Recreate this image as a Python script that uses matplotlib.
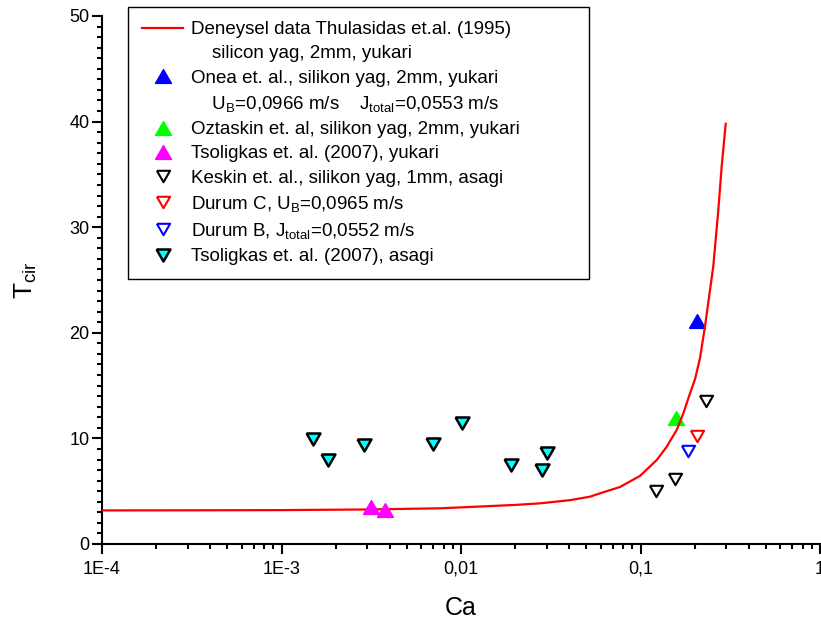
import matplotlib
matplotlib.use("Agg")
import matplotlib.pyplot as plt
from matplotlib.lines import Line2D
from matplotlib.ticker import FixedLocator, FixedFormatter, MultipleLocator, LogLocator, NullFormatter

plt.rcParams['font.family'] = ['Liberation Sans', 'DejaVu Sans']
plt.rcParams['mathtext.fontset'] = 'custom'
plt.rcParams['mathtext.rm'] = 'Liberation Sans'
plt.rcParams['mathtext.it'] = 'Liberation Sans:italic'

# ---- data ----
curve_ca = [1e-4, 3e-4, 1e-3, 3e-3, 0.00764, 0.0128, 0.0200, 0.0275, 0.0405, 0.0523,
            0.0595, 0.0769, 0.0994, 0.1231, 0.1399, 0.1591, 0.1733, 0.1888, 0.2012,
            0.2145, 0.2287, 0.2544, 0.2713, 0.2831, 0.2983]
curve_t = [3.18, 3.19, 3.21, 3.27, 3.38, 3.55, 3.7, 3.85, 4.15, 4.48,
           4.80, 5.4, 6.45, 7.95, 9.21, 10.8, 12.38, 14.27, 15.6,
           17.6, 20.6, 26.3, 31.6, 35.7, 39.8]

onea_ca = [0.2055]
onea_t = [21.1]

oztaskin_ca = [0.1578]
oztaskin_t = [11.9]

tsol_up_ca = [0.00314, 0.00376]
tsol_up_t = [3.5, 3.2]

keskin_ca = [0.2306, 0.155, 0.1215]
keskin_t = [13.57, 6.12, 5.05]

durumC_ca = [0.2072]
durumC_t = [10.26]

durumB_ca = [0.1839]
durumB_t = [8.81]

tsol_down_ca = [0.001503, 0.001824, 0.002882, 0.00695, 0.01009, 0.01901, 0.02998, 0.02817]
tsol_down_t = [9.94, 7.95, 9.38, 9.47, 11.49, 7.48, 8.59, 7.0]

xtick_vals = [1e-4, 1e-3, 1e-2, 1e-1, 1]
xtick_labels = ["1E-4", "1E-3", "0,01", "0,1", "1"]
ytick_vals = [0, 10, 20, 30, 40, 50]

# ---- figure ----
W, H = 821, 625
fig = plt.figure(figsize=(W / 100, H / 100), dpi=100)
ax = fig.add_axes([102 / W, 1 - 544 / H, (820 - 102) / W, (544 - 16) / H])

up = [(-1, -0.866), (1, -0.866), (0, 0.866), (-1, -0.866)]
down = [(-1, 0.866), (1, 0.866), (0, -0.866), (-1, 0.866)]

ax.plot(curve_ca, curve_t, color='#ff0000', lw=1.6, zorder=3)
ax.plot(onea_ca, onea_t, linestyle='none', marker=up, ms=11.5, color='#0000ff', mec='#0000ff', zorder=2)
ax.plot(oztaskin_ca, oztaskin_t, linestyle='none', marker=up, ms=11.5, color='#00ff00', mec='#00ff00', zorder=2)
ax.plot(tsol_up_ca, tsol_up_t, linestyle='none', marker=up, ms=11.5, color='#ff00ff', mec='#ff00ff', zorder=4)
ax.plot(keskin_ca, keskin_t, linestyle='none', marker=down, ms=9.5, mfc='none', mec='black', mew=1.5, zorder=4)
ax.plot(durumC_ca, durumC_t, linestyle='none', marker=down, ms=9.5, mfc='none', mec='#ff0000', mew=1.5, zorder=4)
ax.plot(durumB_ca, durumB_t, linestyle='none', marker=down, ms=9.5, mfc='none', mec='#0000ff', mew=1.5, zorder=4)
ax.plot(tsol_down_ca, tsol_down_t, linestyle='none', marker=down, ms=10, mfc='#00ffff', mec='black', mew=1.8, zorder=4)

ax.set_xscale('log')
ax.set_xlim(1e-4, 1)
ax.set_ylim(0, 50)

ax.xaxis.set_major_locator(FixedLocator(xtick_vals))
ax.xaxis.set_major_formatter(FixedFormatter(xtick_labels))
ax.xaxis.set_minor_locator(LogLocator(base=10, subs=[2, 3, 4, 5, 6, 7, 8, 9], numticks=20))
ax.xaxis.set_minor_formatter(NullFormatter())
ax.yaxis.set_major_locator(FixedLocator(ytick_vals))
ax.yaxis.set_minor_locator(MultipleLocator(1))

for s in ['top', 'right']:
    ax.spines[s].set_visible(False)
for s in ['left', 'bottom']:
    ax.spines[s].set_linewidth(1.5)

ax.tick_params(which='major', direction='out', length=7, width=1.5, labelsize=13)
ax.tick_params(which='minor', direction='out', length=3.5, width=1.5)
ax.tick_params(axis='x', which='major', pad=5)
ax.tick_params(axis='y', which='major', pad=2)

ax.set_xlabel('Ca', fontsize=18, labelpad=13)
ax.set_ylabel(r'T$_\mathrm{cir}$', fontsize=19, labelpad=22)

# ---- legend ----
def blank():
    return Line2D([], [], linestyle='none', marker=None)

handles = [
    Line2D([], [], color='#ff0000', lw=1.6),
    blank(),
    Line2D([], [], linestyle='none', marker=up, ms=11.5, color='#0000ff'),
    blank(),
    Line2D([], [], linestyle='none', marker=up, ms=11.5, color='#00ff00'),
    Line2D([], [], linestyle='none', marker=up, ms=11.5, color='#ff00ff'),
    Line2D([], [], linestyle='none', marker=down, ms=9.5, mfc='none', mec='black', mew=1.5),
    Line2D([], [], linestyle='none', marker=down, ms=9.5, mfc='none', mec='#ff0000', mew=1.5),
    Line2D([], [], linestyle='none', marker=down, ms=9.5, mfc='none', mec='#0000ff', mew=1.5),
    Line2D([], [], linestyle='none', marker=down, ms=10, mfc='#00ffff', mec='black', mew=1.8),
]
labels = [
    "Deneysel data Thulasidas et.al. (1995)",
    "    silicon yag, 2mm, yukari",
    "Onea et. al., silikon yag, 2mm, yukari",
    r"    U$_\mathregular{B}$=0,0966 m/s    J$_\mathregular{total}$=0,0553 m/s",
    "Oztaskin et. al, silikon yag, 2mm, yukari",
    "Tsoligkas et. al. (2007), yukari",
    "Keskin et. al., silikon yag, 1mm, asagi",
    r"Durum C, U$_\mathregular{B}$=0,0965 m/s",
    r"Durum B, J$_\mathregular{total}$=0,0552 m/s",
    "Tsoligkas et. al. (2007), asagi",
]
leg = ax.legend(handles, labels, loc='upper left', mode='expand',
                bbox_to_anchor=(128 / W, 1 - 273 / H, (589 - 128) / W, (273 - 7) / H),
                bbox_transform=fig.transFigure,
                borderaxespad=0, fontsize=13.5, frameon=True, fancybox=False,
                edgecolor='black', framealpha=1, handlelength=2.2, handletextpad=0.4,
                labelspacing=0.38, borderpad=0.75)
leg.get_frame().set_linewidth(1.0)

fig.savefig('out.png', dpi=100)
